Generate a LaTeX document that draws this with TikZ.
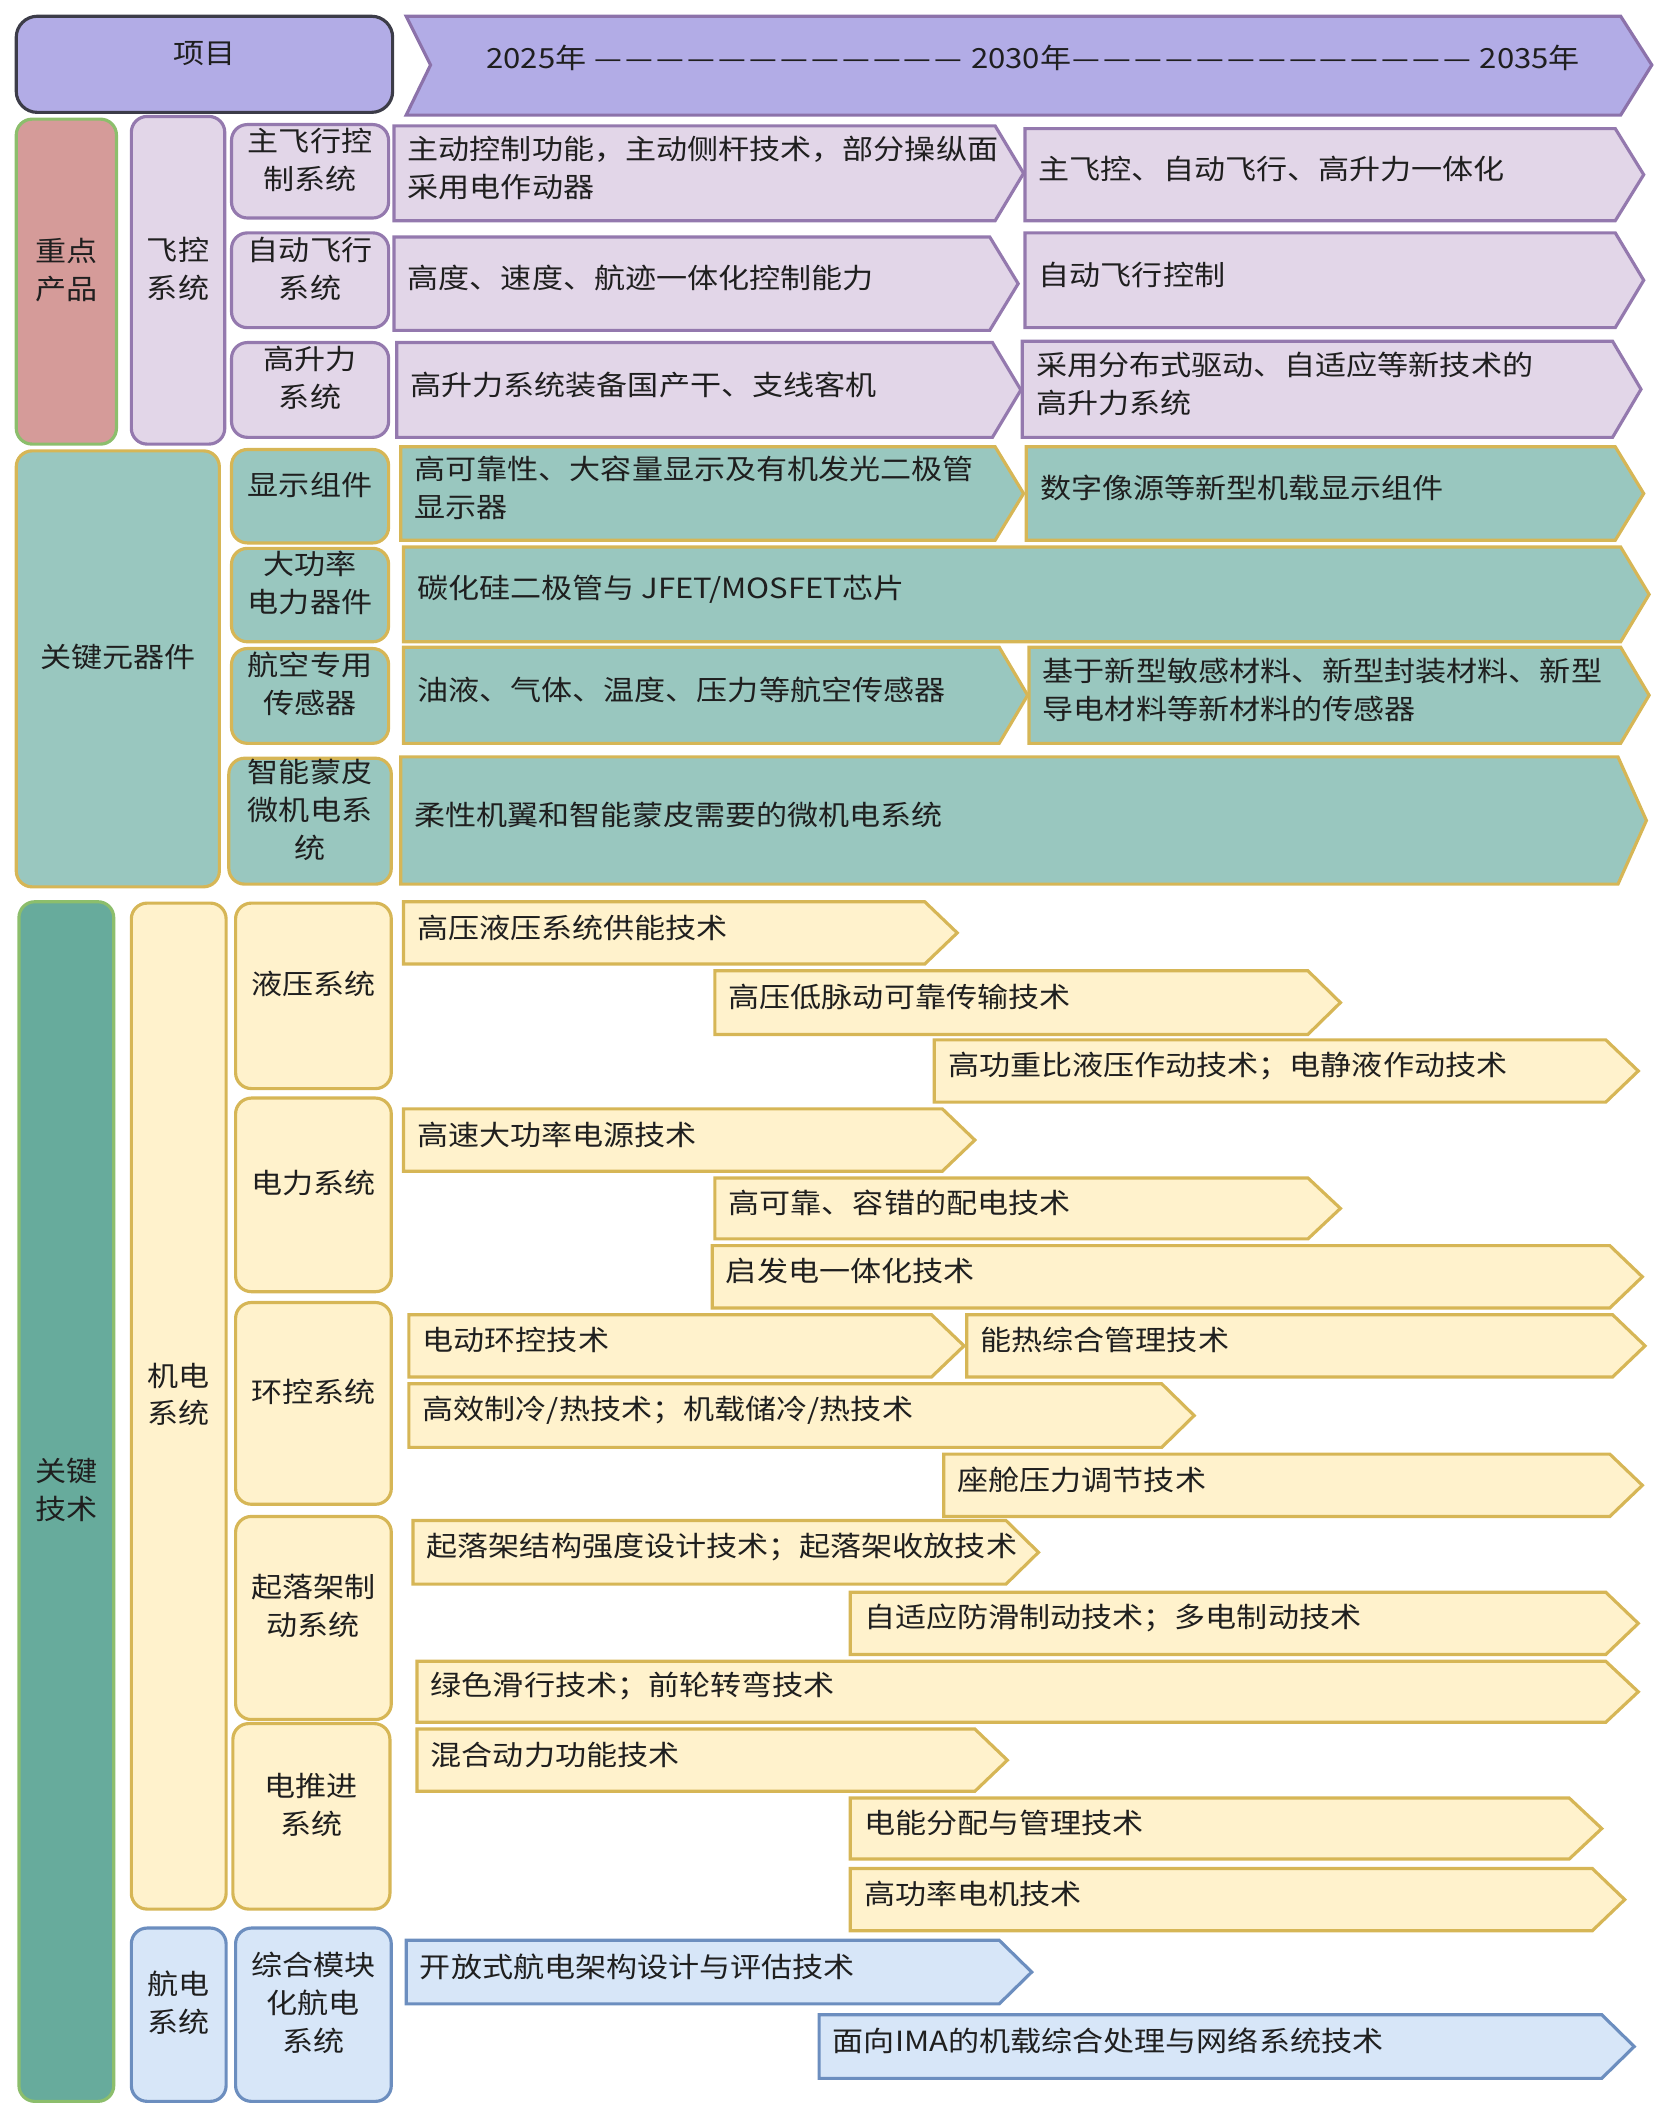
\documentclass[tikz,border=0pt]{standalone}
\usepackage{fontspec}
\setmainfont[FakeStretch=1.12]{Noto Sans CJK SC}
\usepackage{tikz}
\usetikzlibrary{fit}

\definecolor{lavhead}{HTML}{B2ACE6}
\definecolor{headline}{HTML}{8C72AA}
\definecolor{darkline}{HTML}{3C3C48}
\definecolor{rosefill}{HTML}{D59B99}
\definecolor{greenline}{HTML}{8CBE6C}
\definecolor{lilac}{HTML}{E2D6E8}
\definecolor{purpleline}{HTML}{9479AE}
\definecolor{tealfill}{HTML}{99C7BF}
\definecolor{goldline}{HTML}{D6B656}
\definecolor{deepteal}{HTML}{67AB9C}
\definecolor{cream}{HTML}{FFF2CC}
\definecolor{skyfill}{HTML}{D7E6F8}
\definecolor{blueline}{HTML}{6C8EBF}

% chevron bar: name, look, left, top, right, bottom, text
\newcommand\stagebar[7]{%
  \draw[#2] (#3,#4) -- (#5-\tipd,#4) -- (#5,{(#4+#6)/2}) -- (#5-\tipd,#6) -- (#3,#6) -- cycle;
  \node[bartext] (#1) at (#3+9,{(#4+#6)/2-4}) {#7};}
% run of full-width dashes on the time line
\newcommand\yeardash[1]{\foreach \k in {1,...,#1}{\makebox[8.8pt]{—}}}

\begin{document}
\begin{tikzpicture}[x=0.013545cm, y=-0.013545cm,
  line width=0.9pt, font=\fontsize{7.9}{10.8}\selectfont, text=black!88,
  bartext/.style={anchor=west, inner sep=0pt, align=left},
  cell/.style={inner sep=0pt, align=center, rounded corners=4.5pt},
  lav/.style={fill=lilac, draw=purpleline},
  tea/.style={fill=tealfill, draw=goldline},
  yel/.style={fill=cream, draw=goldline},
  blu/.style={fill=skyfill, draw=blueline}]
\useasboundingbox (0,0) rectangle (1230,1568);

% header
\node[cell, fill=lavhead, draw=darkline, rounded corners=6pt, fit={(12,12) (290,83)}] (xm) {项目};
\draw[fill=lavhead, draw=headline] (300,12) -- (1197,12) -- (1220,48) -- (1197,85) -- (300,85) -- (318,48) -- cycle;
\node[bartext] (years) at (358,43) {2025年 \yeardash{12} 2030年\yeardash{13} 2035年};

% key products
\node[cell, fill=rosefill, draw=greenline, fit={(12,88) (86,328)}] (zdcp) {重点\\产品};
\node[cell, lav, fit={(97,86) (166,328)}] (fkxt) {飞控\\系统};
\node[cell, lav, fit={(171,92) (287,161)}] (zfk) {主飞行控\\制系统};
\node[cell, lav, fit={(171,172) (287,242)}] (zdfx) {自动飞行\\系统};
\node[cell, lav, fit={(171,253) (287,323)}] (gsl) {高升力\\系统};
\def\tipd{21}
\stagebar{a11}{lav}{291}{93}{756}{163}{主动控制功能，主动侧杆技术，部分操纵面\\采用电作动器}
\stagebar{a12}{lav}{757}{95}{1214}{163}{主飞控、自动飞行、高升力一体化}
\stagebar{a21}{lav}{291}{175}{752}{244}{高度、速度、航迹一体化控制能力}
\stagebar{a22}{lav}{757}{172}{1214}{242}{自动飞行控制}
\stagebar{a31}{lav}{293}{253}{754}{323}{高升力系统装备国产干、支线客机}
\stagebar{a32}{lav}{755}{252}{1212}{323}{采用分布式驱动、自适应等新技术的\\高升力系统}

% key components
\node[cell, tea, fit={(12,333) (162,655)}] (gjyqj) {关键元器件};
\node[cell, tea, fit={(171,332) (287,401)}] (xszj) {显示组件};
\node[cell, tea, fit={(171,405) (287,474)}] (dgl) {大功率\\电力器件};
\node[cell, tea, fit={(171,479) (287,549)}] (hkcg) {航空专用\\传感器};
\node[cell, tea, fit={(169,560) (289,653)}] (znmp) {智能蒙皮\\微机电系\\统};
\stagebar{b11}{tea}{296}{330}{756}{399}{高可靠性、大容量显示及有机发光二极管\\显示器}
\stagebar{b12}{tea}{758}{330}{1214}{399}{数字像源等新型机载显示组件}
\stagebar{b21}{tea}{298}{404}{1218}{474}{碳化硅二极管与 JFET/MOSFET芯片}
\stagebar{b31}{tea}{298}{478}{759}{549}{油液、气体、温度、压力等航空传感器}
\stagebar{b32}{tea}{760}{478}{1218}{549}{基于新型敏感材料、新型封装材料、新型\\导电材料等新材料的传感器}
\stagebar{b41}{tea}{296}{559}{1216}{653}{柔性机翼和智能蒙皮需要的微机电系统}

% key technologies
\node[cell, fill=deepteal, draw=greenline, fit={(14,666) (84,1552)}] (gjjs) {关键\\技术};
\node[cell, yel, fit={(97,667) (167,1410)}] (jdxt) {机电\\系统};
\node[cell, blu, fit={(97,1424) (167,1552)}] (hdxt) {航电\\系统};
\node[cell, yel, fit={(174,667) (289,804)}] (yyxt) {液压系统};
\node[cell, yel, fit={(174,811) (289,954)}] (dlxt) {电力系统};
\node[cell, yel, fit={(174,962) (289,1111)}] (hkxt) {环控系统};
\node[cell, yel, fit={(174,1120) (289,1270)}] (qlj) {起落架制\\动系统};
\node[cell, yel, fit={(172,1273) (288,1410)}] (dtj) {电推进\\系统};
\node[cell, blu, fit={(174,1424) (289,1552)}] (zhmk) {综合模块\\化航电\\系统};
\def\tipd{24}
\stagebar{c1}{yel}{298}{666}{707}{712}{高压液压系统供能技术}
\stagebar{c2}{yel}{528}{717}{990}{764}{高压低脉动可靠传输技术}
\stagebar{c3}{yel}{690}{768}{1210}{814}{高功重比液压作动技术；电静液作动技术}
\stagebar{c4}{yel}{298}{819}{720}{865}{高速大功率电源技术}
\stagebar{c5}{yel}{528}{870}{990}{915}{高可靠、容错的配电技术}
\stagebar{c6}{yel}{526}{920}{1213}{966}{启发电一体化技术}
\stagebar{c7}{yel}{302}{971}{712}{1017}{电动环控技术}
\stagebar{c8}{yel}{714}{971}{1215}{1017}{能热综合管理技术}
\stagebar{c9}{yel}{302}{1022}{882}{1069}{高效制冷/热技术；机载储冷/热技术}
\stagebar{c10}{yel}{697}{1074}{1213}{1120}{座舱压力调节技术}
\stagebar{c11}{yel}{305}{1123}{767}{1170}{起落架结构强度设计技术；起落架收放技术}
\stagebar{c12}{yel}{628}{1176}{1210}{1222}{自适应防滑制动技术；多电制动技术}
\stagebar{c13}{yel}{308}{1227}{1210}{1272}{绿色滑行技术；前轮转弯技术}
\stagebar{c14}{yel}{308}{1277}{744}{1323}{混合动力功能技术}
\stagebar{c15}{yel}{628}{1328}{1183}{1373}{电能分配与管理技术}
\stagebar{c16}{yel}{628}{1380}{1200}{1426}{高功率电机技术}
\stagebar{d1}{blu}{300}{1433}{762}{1480}{开放式航电架构设计与评估技术}
\stagebar{d2}{blu}{605}{1488}{1207}{1535}{面向IMA的机载综合处理与网络系统技术}
\end{tikzpicture}
\end{document}
